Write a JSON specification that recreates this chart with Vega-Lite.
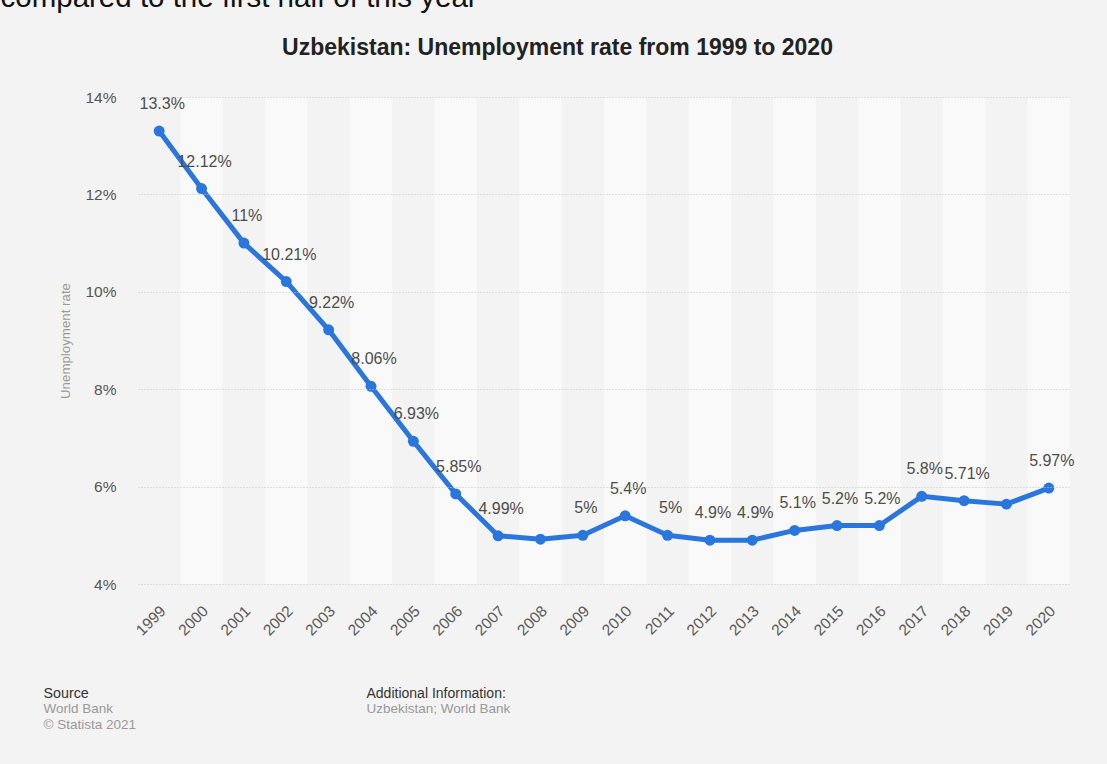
{
  "$schema": "https://vega.github.io/schema/vega-lite/v6.json",
  "autosize": {"type": "none"},
  "padding": {"left": 138, "right": 37, "top": 97, "bottom": 180},
  "width": 932,
  "height": 487,
  "background": "#f3f3f3",
  "config": {
    "view": {"stroke": null},
    "axis": {"labelFont": "Liberation Sans", "titleFont": "Liberation Sans"},
    "text": {"font": "Liberation Sans"}
  },
  "data": {
    "values": [
      {"year": 1999, "rate": 13.3, "label": "13.3%"},
      {"year": 2000, "rate": 12.12, "label": "12.12%"},
      {"year": 2001, "rate": 11.0, "label": "11%"},
      {"year": 2002, "rate": 10.21, "label": "10.21%"},
      {"year": 2003, "rate": 9.22, "label": "9.22%"},
      {"year": 2004, "rate": 8.06, "label": "8.06%"},
      {"year": 2005, "rate": 6.93, "label": "6.93%"},
      {"year": 2006, "rate": 5.85, "label": "5.85%"},
      {"year": 2007, "rate": 4.99, "label": "4.99%"},
      {"year": 2008, "rate": 4.92, "label": ""},
      {"year": 2009, "rate": 5.0, "label": "5%"},
      {"year": 2010, "rate": 5.4, "label": "5.4%"},
      {"year": 2011, "rate": 5.0, "label": "5%"},
      {"year": 2012, "rate": 4.9, "label": "4.9%"},
      {"year": 2013, "rate": 4.9, "label": "4.9%"},
      {"year": 2014, "rate": 5.1, "label": "5.1%"},
      {"year": 2015, "rate": 5.2, "label": "5.2%"},
      {"year": 2016, "rate": 5.2, "label": "5.2%"},
      {"year": 2017, "rate": 5.8, "label": "5.8%"},
      {"year": 2018, "rate": 5.71, "label": "5.71%"},
      {"year": 2019, "rate": 5.64, "label": ""},
      {"year": 2020, "rate": 5.97, "label": "5.97%"}
    ]
  },
  "resolve": {"axis": {"x": "independent", "y": "independent"}},
  "layer": [
    {
      "transform": [{"filter": "datum.year % 2 == 0"}],
      "mark": {"type": "bar", "color": "#f9f9f9"},
      "encoding": {
        "x": {
          "field": "year", "type": "ordinal",
          "scale": {"type": "band", "paddingInner": 0, "paddingOuter": 0, "domain": [1999,2000,2001,2002,2003,2004,2005,2006,2007,2008,2009,2010,2011,2012,2013,2014,2015,2016,2017,2018,2019,2020]},
          "axis": {
            "orient": "bottom", "labelAngle": -45, "labelAlign": "right", "labelBaseline": "middle",
            "labelOverlap": false, "labelPadding": 24, "labelOffset": 4, "labelFontSize": 15.5, "labelColor": "#5a5a5a",
            "ticks": false, "domain": false, "grid": false,
            "title": "Additional Information:", "titleX": 228, "titleY": 113, "titleAlign": "left",
            "titleBaseline": "alphabetic", "titleFontSize": 14, "titleFontWeight": "normal", "titleColor": "#333333"
          }
        },
        "y": {
          "datum": 14, "type": "quantitative",
          "scale": {"domain": [4, 14], "nice": false, "zero": false},
          "axis": {
            "orient": "left", "values": [4, 6, 8, 10, 12, 14], "labelExpr": "datum.value + '%'",
            "labelPadding": 22, "labelFontSize": 15.5, "labelColor": "#555555",
            "ticks": false, "domain": false, "grid": true, "gridColor": "#c4c4c4", "gridDash": [1, 2], "gridWidth": 1,
            "zindex": 1,
            "title": "Unemployment rate", "titleX": -73, "titleY": 243.5, "titleAngle": -90,
            "titleAlign": "center", "titleBaseline": "middle", "titleFontSize": 13.3,
            "titleFontWeight": "normal", "titleColor": "#999999"
          }
        },
        "y2": {"datum": 4}
      }
    },
    {
      "mark": {"type": "line", "color": "#2a76dc", "strokeWidth": 5, "strokeJoin": "round"},
      "encoding": {
        "x": {
          "field": "year", "type": "ordinal",
          "axis": {
            "orient": "top", "labels": false, "ticks": false, "domain": false, "grid": false,
            "title": "Uzbekistan: Unemployment rate from 1999 to 2020",
            "titleX": 419, "titleY": -43, "titleAlign": "center", "titleBaseline": "alphabetic",
            "titleFontSize": 23, "titleFontWeight": "bold", "titleColor": "#222222"
          }
        },
        "y": {
          "field": "rate", "type": "quantitative",
          "axis": {
            "orient": "right", "labels": false, "ticks": false, "domain": false, "grid": false,
            "title": "Source", "titleX": -1027, "titleY": 600, "titleAngle": 0, "titleAlign": "left",
            "titleBaseline": "alphabetic", "titleFontSize": 14.3, "titleFontWeight": "normal", "titleColor": "#333333"
          }
        }
      }
    },
    {
      "mark": {"type": "circle", "color": "#2a76dc", "size": 120, "opacity": 1},
      "encoding": {
        "x": {
          "field": "year", "type": "ordinal",
          "axis": {
            "orient": "bottom", "labels": false, "ticks": false, "domain": false, "grid": false,
            "title": "Uzbekistan; World Bank", "titleX": 228, "titleY": 128, "titleAlign": "left",
            "titleBaseline": "alphabetic", "titleFontSize": 13.5, "titleFontWeight": "normal", "titleColor": "#999999"
          }
        },
        "y": {
          "field": "rate", "type": "quantitative",
          "axis": {
            "orient": "left", "labels": false, "ticks": false, "domain": false, "grid": false,
            "title": ["World Bank", "© Statista 2021"], "titleX": -95, "titleY": 615, "titleAngle": 0,
            "titleAlign": "left", "titleBaseline": "alphabetic", "titleLineHeight": 16,
            "titleFontSize": 13.5, "titleFontWeight": "normal", "titleColor": "#999999"
          }
        }
      }
    },
    {
      "mark": {"type": "text", "fontSize": 16, "color": "#4d4d4d", "dx": 3, "dy": -27, "baseline": "middle", "align": "center"},
      "encoding": {
        "x": {
          "field": "year", "type": "ordinal",
          "axis": {
            "orient": "top", "labels": false, "ticks": false, "domain": false, "grid": false,
            "title": "compared to the first half of this year",
            "titleX": -138, "titleY": -91, "titleAlign": "left", "titleBaseline": "alphabetic",
            "titleFontSize": 29.5, "titleFontWeight": "normal", "titleColor": "#111111"
          }
        },
        "y": {"field": "rate", "type": "quantitative", "axis": null},
        "text": {"field": "label", "type": "nominal"}
      }
    }
  ]
}
